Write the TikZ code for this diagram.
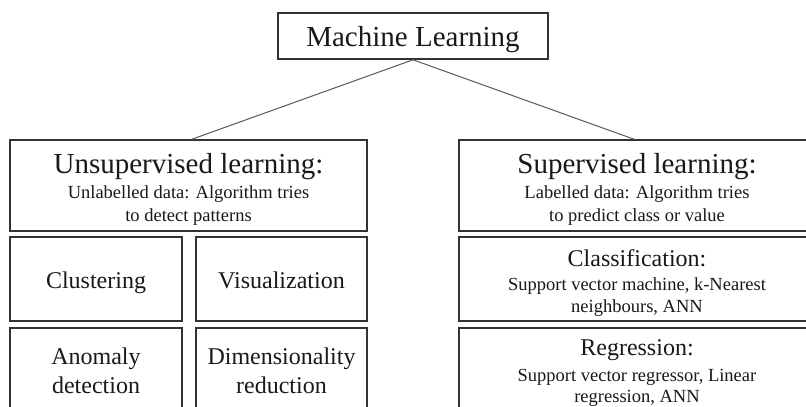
\documentclass[tikz,border=0pt]{standalone}
\usepackage{fontspec}
\setmainfont{Liberation Serif}
\begin{document}
\begin{tikzpicture}[x=1pt,y=-1pt,
  box/.style={draw=black!80, line width=1.6pt, inner sep=0, rectangle},
  conn/.style={draw=black!65, line width=1pt},
  txt/.style={inner sep=0, anchor=base, text=black!90},
  big/.style={font=\fontsize{29}{35}\selectfont},
  mid/.style={font=\fontsize{24}{29}\selectfont},
  small/.style={font=\fontsize{18.5}{23}\selectfont}]
\clip (0,0) rectangle (806,407);
\fill[white] (0,0) rectangle (806,407);
% boxes
\node[box, minimum width=270pt, minimum height=46pt] (ml) at (413,36) {};
\node[box, minimum width=357pt, minimum height=91pt] (unsup) at (188.5,185.5) {};
\node[box, minimum width=172pt, minimum height=84pt] (clus) at (96,279) {};
\node[box, minimum width=171pt, minimum height=84pt] (vis) at (281.5,279) {};
\node[box, minimum width=172pt, minimum height=92pt] (anom) at (96,374) {};
\node[box, minimum width=171pt, minimum height=92pt] (dim) at (281.5,374) {};
\node[box, minimum width=356pt, minimum height=91pt] (sup) at (637,185.5) {};
\node[box, minimum width=356pt, minimum height=84pt] (cls) at (637,279) {};
\node[box, minimum width=356pt, minimum height=92pt] (reg) at (637,374) {};
% connectors
\draw[conn] (ml.south) -- ([xshift=3.5pt]unsup.north);
\draw[conn] (ml.south) -- ([xshift=-3pt]sup.north);
% texts
\node[txt, big] (mlt) at (413,46) {Machine Learning};
\node[txt, big] (unsupt) at (188.5,173) {Unsupervised learning:};
\node[txt, small] (unsup1) at (188.5,198) {Unlabelled data: Algorithm tries};
\node[txt, small] (unsup2) at (188.5,221) {to detect patterns};
\node[txt, mid] (clust) at (96,288) {Clustering};
\node[txt, mid] (vist) at (281.5,288) {Visualization};
\node[txt, mid] (anom1) at (96,364) {Anomaly};
\node[txt, mid] (anom2) at (96,393) {detection};
\node[txt, mid] (dim1) at (281.5,364) {Dimensionality};
\node[txt, mid] (dim2) at (281.5,393) {reduction};
\node[txt, big] (supt) at (637,173) {Supervised learning:};
\node[txt, small] (sup1) at (637,198) {Labelled data: Algorithm tries};
\node[txt, small] (sup2) at (637,221) {to predict class or value};
\node[txt, mid] (clst) at (637,266) {Classification:};
\node[txt, small] (cls1) at (637,290) {Support vector machine, k-Nearest};
\node[txt, small] (cls2) at (637,312) {neighbours, ANN};
\node[txt, mid] (regt) at (637,355) {Regression:};
\node[txt, small] (reg1) at (637,381) {Support vector regressor, Linear};
\node[txt, small] (reg2) at (637,402) {regression, ANN};
\end{tikzpicture}
\end{document}
